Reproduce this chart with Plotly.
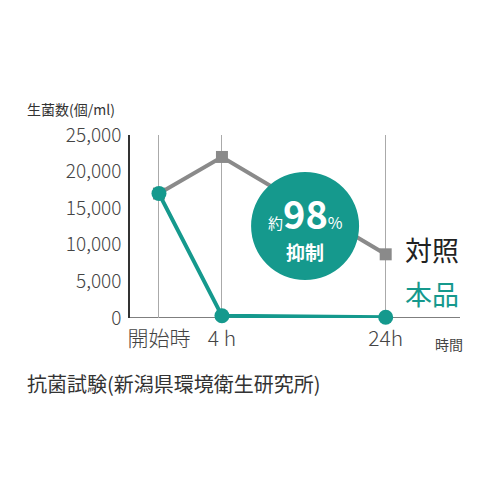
import plotly.graph_objects as go

# データ
time_labels = ["開始時", "4 h", "24h"]
time_pos = [0, 1, 3.6]
control_counts = [17000, 22000, 8700]
product_counts = [17000, 300, 100]

TEAL = "#15998d"
GRAY = "#8a8a8a"
JP = "Noto Sans CJK JP"

fig = go.Figure()

fig.add_trace(go.Scatter(
    x=time_pos, y=control_counts, mode="lines+markers",
    line=dict(color=GRAY, width=4),
    marker=dict(symbol="square", size=12, color=GRAY),
    cliponaxis=False, showlegend=False,
))
fig.add_trace(go.Scatter(
    x=time_pos, y=product_counts, mode="lines+markers",
    line=dict(color=TEAL, width=4),
    marker=dict(symbol="circle", size=15, color=TEAL),
    cliponaxis=False, showlegend=False,
))

# 約98%抑制 の丸
fig.add_shape(
    type="circle", xref="x", yref="y", xsizemode="pixel", ysizemode="pixel",
    xanchor=2.32, yanchor=12570, x0=-54, x1=54, y0=-54, y1=54,
    fillcolor=TEAL, line=dict(width=0), layer="above",
)
fig.add_annotation(
    x=2.32, y=14400, xref="x", yref="y", showarrow=False,
    text="<span style='font-size:15px'>約</span><b>98</b><span style='font-size:16px'>%</span>",
    font=dict(family=JP, size=38, color="white"),
)
fig.add_annotation(
    x=2.32, y=9100, xref="x", yref="y", showarrow=False,
    text="<b>抑制</b>", font=dict(family=JP, size=19, color="white"),
)

# 系列ラベル
fig.add_annotation(x=3.88, y=control_counts[2] + 700, xref="x", yref="y", xanchor="left",
                   showarrow=False, text="対照", font=dict(family=JP, size=27, color="#222"))
fig.add_annotation(x=3.88, y=3400, xref="x", yref="y", xanchor="left",
                   showarrow=False, text="本品", font=dict(family=JP, size=27, color=TEAL))

# 軸タイトルなど
fig.add_annotation(x=25, y=109, xref="paper", yref="paper", showarrow=False,
                   text="生菌数(個/ml)", font=dict(family=JP, size=14, color="#333"))
fig.add_annotation(x=449, y=344, xref="paper", yref="paper", showarrow=False,
                   text="時間", font=dict(family=JP, size=14, color="#444"))
fig.add_annotation(x=25, y=383, xref="paper", yref="paper", showarrow=False,
                   text="抗菌試験(新潟県環境衛生研究所)", font=dict(family=JP, size=20, color="#333"))

# paper 座標をピクセル指定に変換
W, H = 500, 500
L, R, T, B = 130, 40, 135, 182
for a in fig.layout.annotations:
    if a.xref == "paper":
        px_x, px_y = a.x, a.y
        a.x = (px_x - L) / (W - L - R)
        a.y = 1 - (px_y - T) / (H - T - B)
        a.xanchor = "left" if px_x < 100 else "center"
        a.yanchor = "middle"

fig.update_xaxes(
    range=[-0.46, 4.78], tickvals=time_pos, ticktext=time_labels,
    showgrid=True, gridcolor="#aaaaaa", gridwidth=1,
    showline=False, zeroline=False, ticks="", ticklabelstandoff=6,
    tickfont=dict(family=JP, size=21, color="#444", weight=300),
)
fig.update_yaxes(
    range=[0, 25000], tickvals=[0, 5000, 10000, 15000, 20000, 25000],
    tickformat=",", showgrid=False, zeroline=False,
    showline=True, linecolor="#333", linewidth=1.5, ticks="", ticklabelstandoff=3,
    tickfont=dict(family=JP, size=19, color="#444", weight=300),
)
fig.add_shape(type="line", xref="paper", yref="y", x0=0, x1=1, y0=0, y1=0,
              line=dict(color="#555", width=1.5), layer="below")

fig.update_layout(
    width=W, height=H, margin=dict(l=L, r=R, t=T, b=B),
    plot_bgcolor="white", paper_bgcolor="white",
)

fig.write_html("out.html", config={"displayModeBar": False},
               post_script="document.body.style.margin='0';")
